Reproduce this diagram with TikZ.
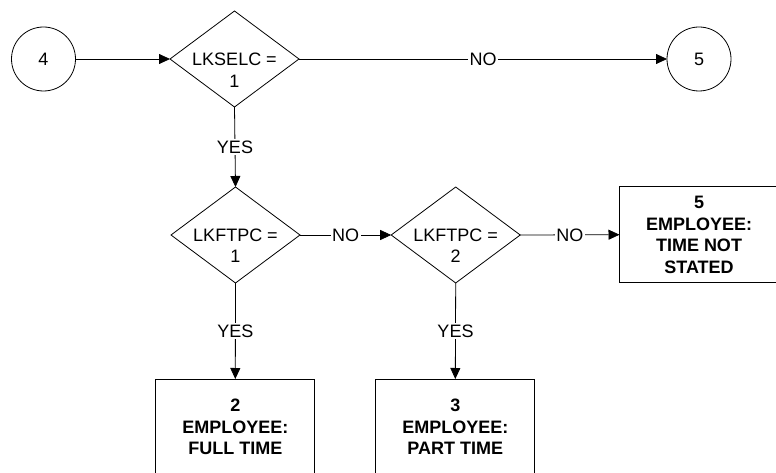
\documentclass[tikz,border=0pt]{standalone}
\usepackage{fontspec}
\setmainfont{Liberation Sans}
\usetikzlibrary{shapes.geometric,arrows.meta}
\begin{document}
\begin{tikzpicture}[x=1pt,y=-1pt,
  every node/.style={font=\fontsize{18}{21.5}\selectfont},
  conn/.style={draw=black,line width=0.8pt},
  arr/.style={conn,-{Triangle[length=11pt,width=10pt]}},
  circ/.style={circle,draw,line width=0.8pt,minimum size=64pt,inner sep=0pt,outer sep=0pt},
  dia/.style={diamond,draw,line width=0.8pt,minimum width=129pt,minimum height=96pt,inner sep=0pt,outer sep=0pt},
  dtext/.style={align=center,inner sep=0pt},
  box/.style={rectangle,draw,line width=0.8pt,minimum width=159pt,minimum height=96pt,inner sep=0pt,outer sep=0pt,align=center,font=\fontsize{18}{21.5}\selectfont\bfseries},
  lab/.style={fill=white,inner sep=1.5pt,midway}
]
\useasboundingbox (0,0) rectangle (776,473);
\node[circ] (c4) at (43.5,59) {4};
\node[dia] (d1) at (234.5,59) {};
\node[dtext] (t1) at ([yshift=-11pt]d1.center) {LKSELC =\\1};
\node[circ] (c5) at (699,59) {5};
\node[dia] (d2) at (235.5,235) {};
\node[dtext] (t2) at ([yshift=-10.5pt]d2.center) {LKFTPC =\\1};
\node[dia] (d3) at (455.7,235) {};
\node[dtext] (t3) at ([yshift=-10.5pt]d3.center) {LKFTPC =\\2};
\node[box] (b5) at (699,234.7) {5\\EMPLOYEE:\\TIME NOT\\STATED};
\node[box] (b2) at (235.3,427) {2\\EMPLOYEE:\\FULL TIME};
\node[box] (b3) at (455.3,427) {3\\EMPLOYEE:\\PART TIME};
\draw[arr] (c4) -- (d1.west);
\draw[arr] (d1.east) -- node[lab] (n1) {NO} (c5);
\draw[arr] (d1.south) -- node[lab] (y1) {YES} (d2.north);
\draw[arr] (d2.east) -- node[lab] (n2) {NO} (d3.west);
\draw[arr] (d3.east) -- node[lab] (n3) {NO} (b5.west);
\draw[arr] (d2.south) -- node[lab] (y2) {YES} (b2.north);
\draw[arr] (d3.south) -- node[lab] (y3) {YES} (b3.north);
\end{tikzpicture}
\end{document}
